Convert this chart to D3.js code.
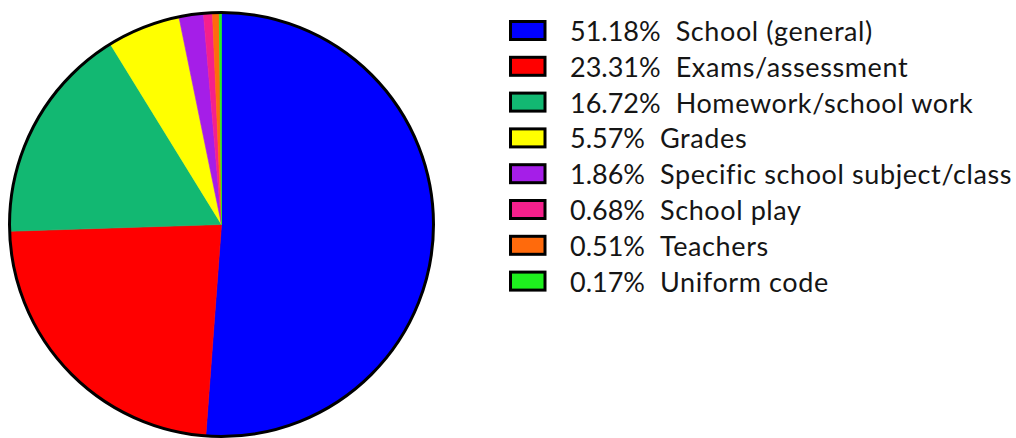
<!DOCTYPE html>
<html>
<head>
<meta charset="utf-8">
<script src="https://cdn.jsdelivr.net/npm/d3@7"></script>
<style>
  html, body { margin: 0; padding: 0; background: #fff; }
  svg { display: block; }
</style>
</head>
<body>
<svg id="chart" width="1016" height="438"></svg>
<script>
// Categories of school-related responses and their shares (%)
const categories = [
  "School (general)",
  "Exams/assessment",
  "Homework/school work",
  "Grades",
  "Specific school subject/class",
  "School play",
  "Teachers",
  "Uniform code"
];
const values = [51.18, 23.31, 16.72, 5.57, 1.86, 0.68, 0.51, 0.17];
const colors = ["#0000ff", "#ff0000", "#12b872", "#ffff00", "#a51ee8", "#f5208c", "#ff6a0c", "#1ef01e"];

const data = categories.map((c, i) => ({ label: c, value: values[i], color: colors[i] }));

const svg = d3.select("#chart");

// Pie
const cx = 221.5, cy = 224.5, r = 212;
const pie = d3.pie().value(d => d.value).sort(null);
const arc = d3.arc().innerRadius(0).outerRadius(r);

const g = svg.append("g").attr("transform", `translate(${cx},${cy})`);
g.selectAll("path.slice")
  .data(pie(data))
  .join("path")
  .attr("class", "slice")
  .attr("d", arc)
  .attr("fill", d => d.data.color)
  .attr("stroke", d => d.data.color)
  .attr("stroke-width", 0.6);

g.append("circle")
  .attr("r", r)
  .attr("fill", "none")
  .attr("stroke", "#000")
  .attr("stroke-width", 3);

// Legend
const rowY = d3.scaleLinear().domain([0, 1]).range([30.5, 66.3]);
const legend = svg.append("g");
const rows = legend.selectAll("g.row")
  .data(data)
  .join("g")
  .attr("class", "row")
  .attr("transform", (d, i) => `translate(0,${rowY(i)})`);

rows.append("rect")
  .attr("x", 510.5)
  .attr("y", -9)
  .attr("width", 34.5)
  .attr("height", 18)
  .attr("fill", d => d.color)
  .attr("stroke", "#000")
  .attr("stroke-width", 3);

const fmt = d3.format(".2f");
const fontFamily = "Lato, 'Open Sans', sans-serif";
const fontSize = 27;

rows.append("text")
  .attr("class", "pct")
  .attr("x", 570)
  .attr("y", 10.5)
  .attr("font-family", fontFamily)
  .attr("font-size", fontSize)
  .attr("fill", "#151515")
  .text(d => fmt(d.value) + "%");

rows.each(function () {
  const row = d3.select(this);
  const w = row.select("text.pct").node().getComputedTextLength();
  row.append("text")
    .attr("x", 570 + w + 15)
    .attr("y", 10.5)
    .attr("font-family", fontFamily)
    .attr("font-size", fontSize)
    .attr("letter-spacing", 0.6)
    .attr("fill", "#151515")
    .text(d => d.label);
});
</script>
</body>
</html>
